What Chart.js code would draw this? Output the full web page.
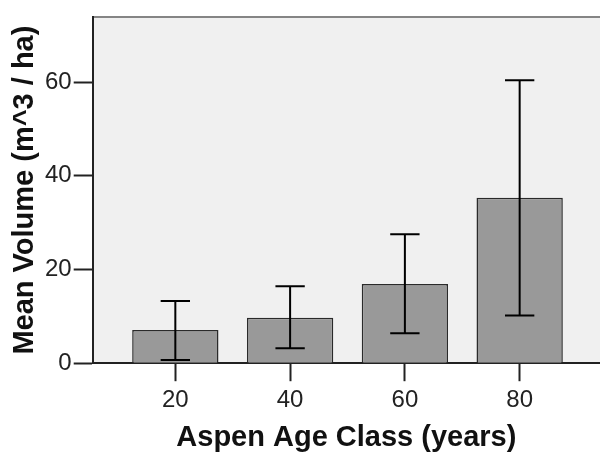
<!DOCTYPE html>
<html><head><meta charset="utf-8">
<script src="https://cdn.jsdelivr.net/npm/chart.js@4.4.1/dist/chart.umd.min.js"></script>
<style>html,body{margin:0;padding:0;background:#fff;overflow:hidden}</style>
</head><body>
<canvas id="c" width="600" height="453"></canvas>
<script>
const categories = [20, 40, 60, 80];
const meanVolume = [7.1, 9.7, 16.9, 35.3];
const errLow = [0.7, 3.2, 6.4, 10.2];
const errHigh = [13.3, 16.4, 27.5, 60.4];
const yTicks = [0, 20, 40, 60];
const xTitle = 'Aspen Age Class (years)';
const yTitle = 'Mean Volume (m^3 / ha)';

const FONT = "'Liberation Sans', Arial, sans-serif";

const bgPlugin = {
  id: 'bg',
  beforeDraw(chart) {
    const {ctx, chartArea: a} = chart;
    ctx.save();
    ctx.fillStyle = '#f0f0f0';
    ctx.fillRect(a.left, a.top, a.right - a.left, a.bottom - a.top);
    ctx.strokeStyle = '#858585';
    ctx.lineWidth = 2;
    ctx.beginPath();
    ctx.moveTo(a.left, a.top);
    ctx.lineTo(a.right, a.top);
    ctx.stroke();
    ctx.restore();
  }
};

const errPlugin = {
  id: 'err',
  afterDatasetsDraw(chart) {
    const {ctx} = chart;
    const meta = chart.getDatasetMeta(0);
    const ys = chart.scales.y;
    ctx.save();
    ctx.strokeStyle = '#000';
    ctx.lineWidth = 2;
    meta.data.forEach((bar, i) => {
      const x = bar.x;
      const yl = ys.getPixelForValue(errLow[i]);
      const yh = ys.getPixelForValue(errHigh[i]);
      const half = bar.width * 0.17;
      ctx.beginPath();
      ctx.moveTo(x, yl); ctx.lineTo(x, yh);
      ctx.moveTo(x - half, yh); ctx.lineTo(x + half, yh);
      ctx.moveTo(x - half, yl); ctx.lineTo(x + half, yl);
      ctx.stroke();
    });
    ctx.restore();
  }
};

new Chart(document.getElementById('c'), {
  type: 'bar',
  data: {
    datasets: [{
      data: categories.map((c, i) => ({x: c, y: meanVolume[i]})),
      backgroundColor: '#999999',
      borderColor: '#2a2a2a',
      borderWidth: 1.5,
      barPercentage: 0.752,
      categoryPercentage: 1.0
    }]
  },
  options: {
    responsive: false,
    devicePixelRatio: 1,
    animation: false,
    layout: {padding: {top: 17, right: 0, bottom: 0, left: 0}},
    plugins: {legend: {display: false}, tooltip: {enabled: false}},
    scales: {
      x: {
        type: 'linear',
        offset: false,
        min: 5.6, max: 94.0,
        afterBuildTicks: s => { s.ticks = categories.map(v => ({value: v})); },
        grid: {offset: false, drawOnChartArea: false, tickLength: 18, tickColor: '#222', tickWidth: 2},
        border: {color: '#222', width: 2},
        ticks: {font: {family: FONT, size: 24}, color: '#222', padding: 5, maxRotation: 0, autoSkip: false,
                callback: v => String(v)},
        title: {display: true, text: xTitle, color: '#111',
                font: {family: FONT, size: 29, weight: 'bold', lineHeight: 1},
                padding: {top: 3, bottom: 1}}
      },
      y: {
        type: 'linear',
        min: 0, max: 73.9,
        afterBuildTicks: s => { s.ticks = yTicks.map(v => ({value: v})); },
        grid: {drawOnChartArea: false, tickLength: 19, tickColor: '#222', tickWidth: 2},
        border: {color: '#222', width: 2},
        ticks: {font: {family: FONT, size: 24}, color: '#222', padding: 2, callback: v => String(v)},
        title: {display: true, text: yTitle, color: '#111',
                font: {family: FONT, size: 29, weight: 'bold', lineHeight: 1},
                padding: {top: 10, bottom: 4}}
      }
    }
  },
  plugins: [bgPlugin, errPlugin]
});
</script>
</body></html>
